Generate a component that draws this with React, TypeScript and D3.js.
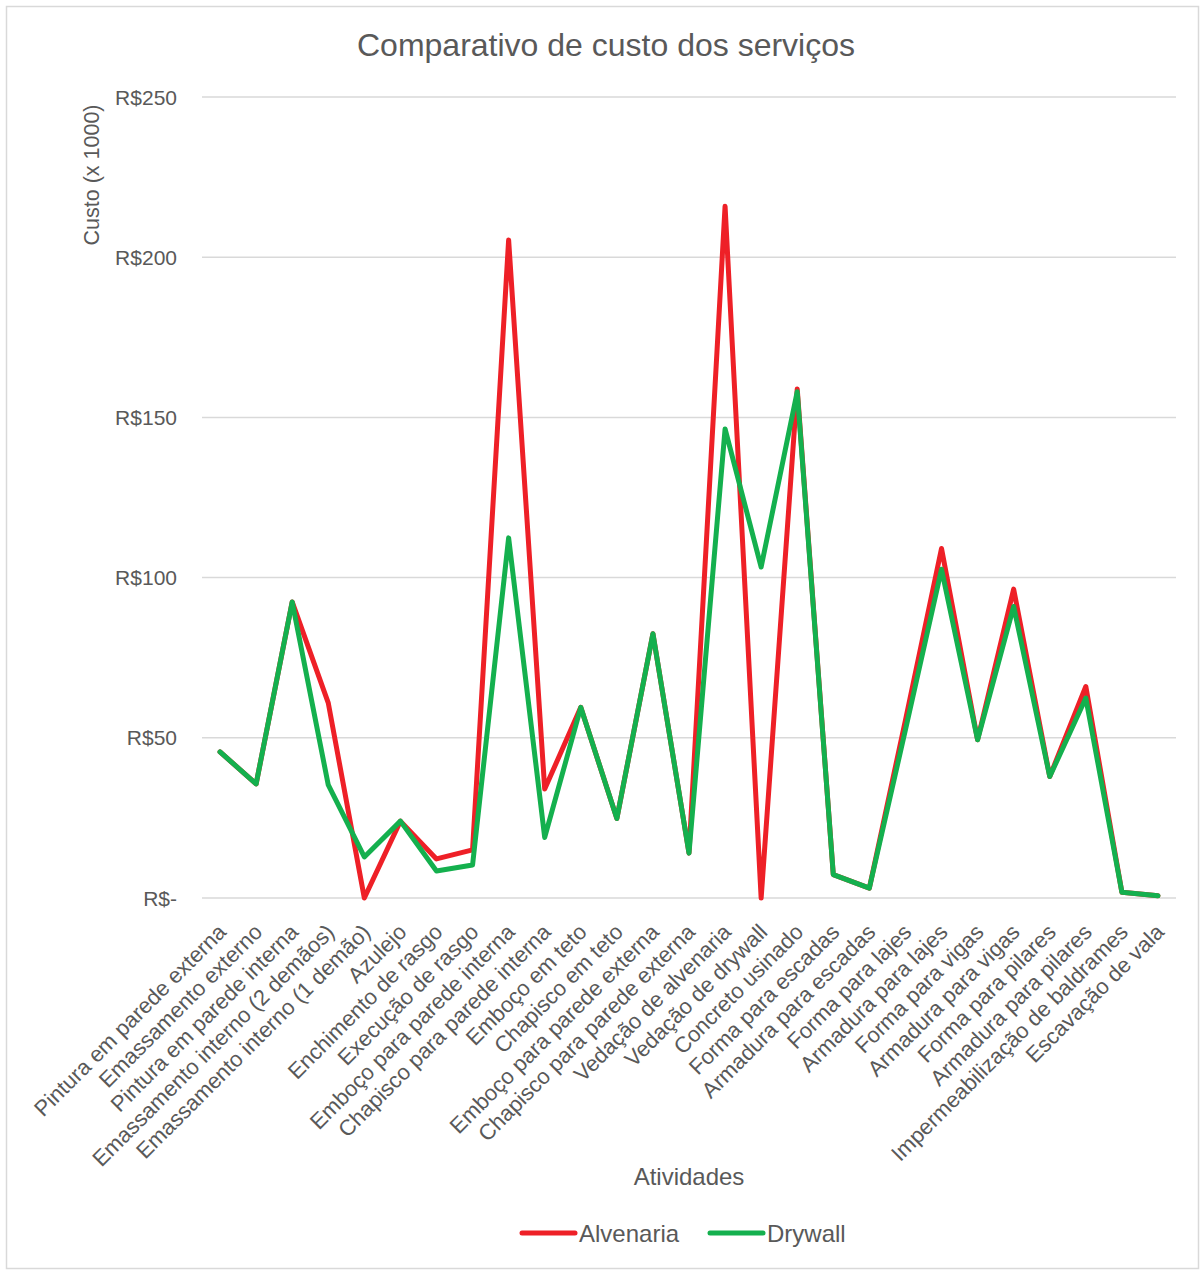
import React from "react";
import * as d3 from "d3";

const categories = [
  "Pintura em parede externa",
  "Emassamento externo",
  "Pintura em parede interna",
  "Emassamento interno (2 demãos)",
  "Emassamento interno (1 demão)",
  "Azulejo",
  "Enchimento de rasgo",
  "Execução de rasgo",
  "Emboço para parede interna",
  "Chapisco para parede interna",
  "Emboço em teto",
  "Chapisco em teto",
  "Emboço para parede externa",
  "Chapisco para parede externa",
  "Vedação de alvenaria",
  "Vedação de drywall",
  "Concreto usinado",
  "Forma para escadas",
  "Armadura para escadas",
  "Forma para lajes",
  "Armadura para lajes",
  "Forma para vigas",
  "Armadura para vigas",
  "Forma para pilares",
  "Armadura para pilares",
  "Impermeabilização de baldrames",
  "Escavação de vala",
];

const alvenaria = [
  45.6, 35.6, 92.4, 60.9, 0, 24.0, 12.2, 15.0, 205.4, 34.0, 59.5, 24.8, 82.5, 14.0,
  215.9, 0, 158.9, 7.3, 3.1, 55.5, 109.1, 49.4, 96.4, 37.9, 66.0, 1.8, 0.7,
];
const drywall = [
  45.6, 35.6, 92.4, 35.3, 12.8, 24.0, 8.4, 10.3, 112.4, 18.9, 59.5, 24.8, 82.5, 14.0,
  146.4, 103.3, 158.0, 7.3, 3.1, 52.5, 102.6, 49.4, 91.0, 37.9, 62.4, 1.8, 0.7,
];

const yTicks = [0, 50, 100, 150, 200, 250];
const seriesNames = ["Alvenaria", "Drywall"];
const seriesColors = ["#EE2027", "#14B04E"];

const W = 1204;
const H = 1274;
const FONT = "'Liberation Sans', Arial, sans-serif";
const TXT = "#595959";

export default function App() {
  const left = 202;
  const right = 1176;
  const top = 97;
  const bottom = 898;

  const x = d3.scaleBand<string>().domain(categories).range([left, right]);
  const y = d3.scaleLinear().domain([0, 250]).range([bottom, top]);
  const cx = (c: string) => (x(c) as number) + x.bandwidth() / 2;

  const line = d3
    .line<number>()
    .x((_, i) => cx(categories[i]))
    .y((d) => y(d));

  const fmt = (v: number) => (v === 0 ? "R$-" : `R$${v}`);
  const series = [alvenaria, drywall];

  return (
    <svg
      width={W}
      height={H}
      style={{ position: "absolute", left: 0, top: 0, background: "#fff" }}
      fontFamily={FONT}
    >
      <rect x={0} y={0} width={W} height={H} fill="#fff" />
      <rect x={6.5} y={6.5} width={1192} height={1262} fill="none" stroke="#D9D9D9" strokeWidth={1.5} />
      <text x={606} y={56} textAnchor="middle" fontSize={32} fill={TXT}>
        Comparativo de custo dos serviços
      </text>

      {yTicks.map((t) => (
        <g key={t}>
          <line x1={left} x2={right} y1={y(t)} y2={y(t)} stroke="#D9D9D9" strokeWidth={1.5} />
          <text x={177} y={y(t) + 7.5} textAnchor="end" fontSize={21} fill={TXT}>
            {fmt(t)}
          </text>
        </g>
      ))}

      <text
        transform={`translate(99,175) rotate(-90)`}
        textAnchor="middle"
        fontSize={21.5}
        fill={TXT}
      >
        Custo (x 1000)
      </text>

      {categories.map((c) => (
        <text
          key={c}
          transform={`translate(${cx(c) + 2},${bottom + 30}) rotate(-45)`}
          textAnchor="end"
          fontSize={22}
          fill={TXT}
          dy="0.35em"
        >
          {c}
        </text>
      ))}

      <text x={689} y={1185} textAnchor="middle" fontSize={24} fill={TXT}>
        Atividades
      </text>

      {series.map((s, i) => (
        <path
          key={i}
          d={line(s) as string}
          fill="none"
          stroke={seriesColors[i]}
          strokeWidth={5}
          strokeLinejoin="round"
          strokeLinecap="round"
        />
      ))}

      {seriesNames.map((n, i) => {
        const lx = i === 0 ? 522 : 710;
        return (
          <g key={n}>
            <line x1={lx} x2={lx + 53} y1={1233} y2={1233} stroke={seriesColors[i]} strokeWidth={5} strokeLinecap="round" />
            <text x={lx + 57} y={1242} fontSize={24} fill={TXT}>
              {n}
            </text>
          </g>
        );
      })}
    </svg>
  );
}
